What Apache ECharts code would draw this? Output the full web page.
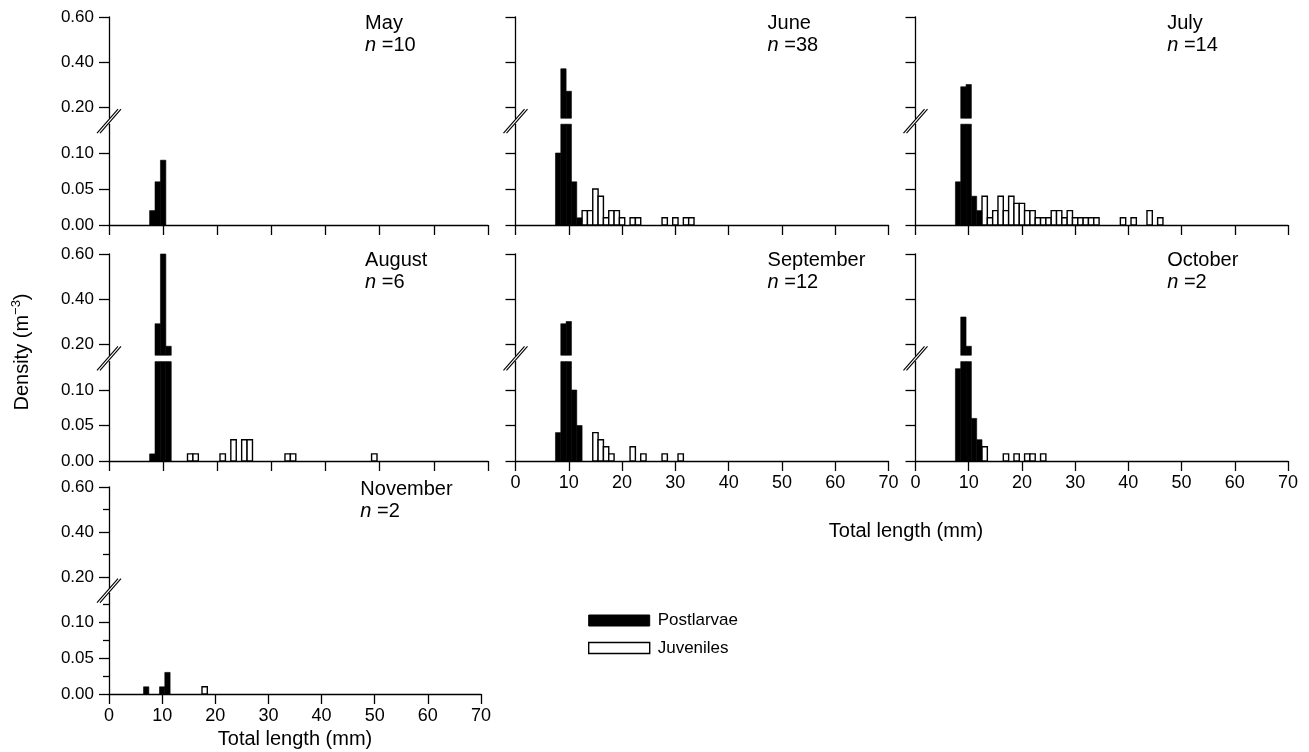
<!DOCTYPE html>
<html>
<head>
<meta charset="utf-8">
<script src="https://cdn.jsdelivr.net/npm/echarts@6/dist/echarts.min.js"></script>
<style>
  html, body { margin: 0; padding: 0; background: #fff; }
  #main { width: 1309px; height: 752px; }
</style>
</head>
<body>
<div id="main"></div>
<script>
// density per 1 mm length class: [total length (mm), density (m-3)]
var mayPost = [[8, 0.02], [9, 0.06], [10, 0.09]];
var mayJuv = [];
var junePost = [[8, 0.10], [9, 0.37], [10, 0.27], [11, 0.06], [12, 0.01]];
var juneJuv = [[13, 0.02], [14, 0.02], [15, 0.05], [16, 0.04], [17, 0.01], [18, 0.02], [19, 0.02], [20, 0.01],
  [22, 0.01], [23, 0.01], [28, 0.01], [30, 0.01], [32, 0.01], [33, 0.01]];
var julyPost = [[8, 0.06], [9, 0.29], [10, 0.30], [11, 0.04], [12, 0.02]];
var julyJuv = [[13, 0.04], [14, 0.01], [15, 0.02], [16, 0.04], [17, 0.02], [18, 0.04], [19, 0.03], [20, 0.03],
  [21, 0.02], [22, 0.02], [23, 0.01], [24, 0.01], [25, 0.01], [26, 0.02], [27, 0.02], [28, 0.01], [29, 0.02],
  [30, 0.01], [31, 0.01], [32, 0.01], [33, 0.01], [34, 0.01], [39, 0.01], [41, 0.01], [44, 0.02], [46, 0.01]];
var augPost = [[8, 0.01], [9, 0.29], [10, 0.60], [11, 0.19]];
var augJuv = [[15, 0.01], [16, 0.01], [21, 0.01], [23, 0.03], [25, 0.03], [26, 0.03], [33, 0.01], [34, 0.01], [49, 0.01]];
var sepPost = [[8, 0.04], [9, 0.29], [10, 0.30], [11, 0.10], [12, 0.05]];
var sepJuv = [[15, 0.04], [16, 0.03], [17, 0.02], [18, 0.01], [22, 0.02], [24, 0.01], [28, 0.01], [31, 0.01]];
var octPost = [[8, 0.13], [9, 0.32], [10, 0.19], [11, 0.06], [12, 0.03]];
var octJuv = [[13, 0.02], [17, 0.01], [19, 0.01], [21, 0.01], [22, 0.01], [24, 0.01]];
var novPost = [[7, 0.01], [10, 0.01], [11, 0.03]];
var novJuv = [[18, 0.01]];

var months = ['May', 'June', 'July', 'August', 'September', 'October', 'November'];
var sampleN = [10, 38, 14, 6, 12, 2, 2];
var postData = [mayPost, junePost, julyPost, augPost, sepPost, octPost, novPost];
var juvData = [mayJuv, juneJuv, julyJuv, augJuv, sepJuv, octJuv, novJuv];

var lowTicks = [0, 0.05, 0.10];
var upTicks = [0.20, 0.40, 0.60];
var lowMinor = [0.025, 0.075, 0.125];
var upMinor = [0.30, 0.50];

// layout (pixels)
var LOW_MAX = 0.14, UP_MIN = 0.15;
var panelRow = [0, 0, 0, 1, 1, 1, 2];
var panelLeft = [109, 515.5, 915.5, 109, 515.5, 915.5, 109];
var panelRight = [488, 888.5, 1288, 488, 888.5, 1288, 481];
var showXLabels = [false, false, false, false, true, true, true];
var showMinor = [false, false, false, false, false, false, true];
var zeroY = [225, 461, 694];
var tenY = [153, 390, 622];
var sixtyY = [17, 254, 487];
var twentyY = [107, 344, 577];
var nameDy = [6, 6, 2];

var FONT = 'Liberation Sans, Arial, sans-serif';
var lineStyle = { color: '#000', width: 1.3 };

function makeRender(lo, hi, fill) {
  return function (params, api) {
    var x = api.value(0), v = api.value(1);
    if (v <= lo) return null;
    var p0 = api.coord([x - 0.5, Math.min(v, hi)]);
    var p1 = api.coord([x + 0.5, lo]);
    return {
      type: 'rect',
      shape: { x: p0[0], y: p0[1], width: p1[0] - p0[0], height: p1[1] - p0[1] },
      style: fill ? { fill: '#000', stroke: '#000', lineWidth: 0.6 } : { fill: '#fff', stroke: '#000', lineWidth: 1.4 }
    };
  };
}

var option = {
  animation: false,
  grid: [], xAxis: [], yAxis: [], series: [], graphic: [],
  legend: {
    left: 588, top: 612, padding: 0, orient: 'vertical', icon: 'rect',
    itemWidth: 61, itemHeight: 11, itemGap: 10.5, selectedMode: false,
    textStyle: { fontSize: 17, fontFamily: FONT, color: '#000', padding: [0, 0, 0, 3] },
    data: [
      { name: 'Postlarvae', itemStyle: { color: '#000', borderColor: '#000', borderWidth: 1 } },
      { name: 'Juveniles', itemStyle: { color: '#fff', borderColor: '#000', borderWidth: 1.4 } }
    ]
  }
};

function yAxisCfg(g, lo, hi, ticks, labels) {
  return {
    gridIndex: g, type: 'value', min: lo, max: hi, position: 'left',
    axisLine: { show: true, onZero: false, lineStyle: lineStyle },
    axisTick: { show: true, length: 10, customValues: ticks, lineStyle: lineStyle },
    axisLabel: {
      show: labels, customValues: ticks, margin: 15, fontSize: 17, fontFamily: FONT, color: '#000',
      formatter: function (v) { return v.toFixed(2); }
    },
    splitLine: { show: false }
  };
}

function minorAxisCfg(g, lo, hi, ticks) {
  return {
    gridIndex: g, type: 'value', min: lo, max: hi, position: 'left', offset: 0,
    axisLine: { show: false, onZero: false },
    axisTick: { show: true, length: 6, customValues: ticks, lineStyle: lineStyle },
    axisLabel: { show: false },
    splitLine: { show: false }
  };
}

months.forEach(function (m, i) {
  var r = panelRow[i], L = panelLeft[i], R = panelRight[i];
  var lowPx = (zeroY[r] - tenY[r]) * 10;
  var lowTop = zeroY[r] - LOW_MAX * lowPx;
  var upPx = (twentyY[r] - sixtyY[r]) / 0.4;
  var upBottom = twentyY[r] + (0.2 - UP_MIN) * upPx;
  var yLabels = (L < 200);

  var gLow = option.grid.length;
  option.grid.push({ left: L, top: lowTop, width: R - L, height: zeroY[r] - lowTop });
  var gUp = gLow + 1;
  option.grid.push({ left: L, top: sixtyY[r], width: R - L, height: upBottom - sixtyY[r] });

  option.xAxis.push({
    gridIndex: gLow, type: 'value', min: 0, max: 70, interval: 10,
    axisLine: { show: true, onZero: false, lineStyle: lineStyle },
    axisTick: { show: true, length: 10, lineStyle: lineStyle },
    axisLabel: { show: showXLabels[i], margin: 13, fontSize: 18, fontFamily: FONT, color: '#000' },
    splitLine: { show: false }
  });
  option.xAxis.push({ gridIndex: gUp, type: 'value', min: 0, max: 70, show: false });

  var yLow = option.yAxis.length;
  option.yAxis.push(yAxisCfg(gLow, 0, LOW_MAX, lowTicks, yLabels));
  var yUp = option.yAxis.length;
  option.yAxis.push(yAxisCfg(gUp, UP_MIN, 0.6, upTicks, yLabels));
  if (showMinor[i]) {
    option.yAxis.push(minorAxisCfg(gLow, 0, LOW_MAX, lowMinor));
    option.yAxis.push(minorAxisCfg(gUp, UP_MIN, 0.6, upMinor));
  }

  [[gLow, yLow, 0, LOW_MAX], [gUp, yUp, UP_MIN, 0.6]].forEach(function (p) {
    option.series.push({
      type: 'custom', name: 'Postlarvae', xAxisIndex: p[0], yAxisIndex: p[1],
      itemStyle: { color: '#000' }, encode: { x: 0, y: 1 },
      renderItem: makeRender(p[2], p[3], true), data: postData[i]
    });
    option.series.push({
      type: 'custom', name: 'Juveniles', xAxisIndex: p[0], yAxisIndex: p[1],
      itemStyle: { color: '#fff', borderColor: '#000' }, encode: { x: 0, y: 1 },
      renderItem: makeRender(p[2], p[3], false), data: juvData[i]
    });
  });

  // axis break marks
  var cy = (upBottom + lowTop) / 2;
  [0, 3].forEach(function (dx) {
    option.graphic.push({
      type: 'line', silent: true,
      shape: { x1: L - 12 + dx, y1: cy + 12, x2: L + 9 + dx, y2: cy - 12 },
      style: { stroke: '#000', lineWidth: 1.1 }
    });
  });

  // month and sample size
  var tx = L + (R - L) * 47.3 / 70;
  option.graphic.push({
    type: 'text', silent: true, x: tx, y: sixtyY[r] + nameDy[r],
    style: { text: m, font: '20px ' + FONT, fill: '#000', verticalAlign: 'middle' }
  });
  option.graphic.push({
    type: 'text', silent: true, x: tx, y: sixtyY[r] + nameDy[r] + 22,
    style: {
      text: '{i|n} =' + sampleN[i], fontSize: 20, fontFamily: FONT, fill: '#000', verticalAlign: 'middle',
      rich: { i: { fontStyle: 'italic', fontSize: 20, fontFamily: FONT } }
    }
  });
});

// axis titles
option.graphic.push({
  type: 'text', silent: true, x: 906, y: 531,
  style: { text: 'Total length (mm)', font: '20px ' + FONT, fill: '#000', align: 'center', verticalAlign: 'middle' }
});
option.graphic.push({
  type: 'text', silent: true, x: 295, y: 739,
  style: { text: 'Total length (mm)', font: '20px ' + FONT, fill: '#000', align: 'center', verticalAlign: 'middle' }
});
option.graphic.push({
  type: 'text', silent: true, x: 22, y: 352, rotation: Math.PI / 2,
  style: {
    text: '{a|Density (m}{s|\u22123}{a|)}', fontSize: 20, fontFamily: FONT, fill: '#000',
    align: 'center', verticalAlign: 'middle',
    rich: {
      a: { fontSize: 20, fontFamily: FONT, lineHeight: 24 },
      s: { fontSize: 13, fontFamily: FONT, verticalAlign: 'top', lineHeight: 24, padding: [0, 0, 10, 0] }
    }
  }
});

var chart = echarts.init(document.getElementById('main'));
chart.setOption(option);
</script>
</body>
</html>
